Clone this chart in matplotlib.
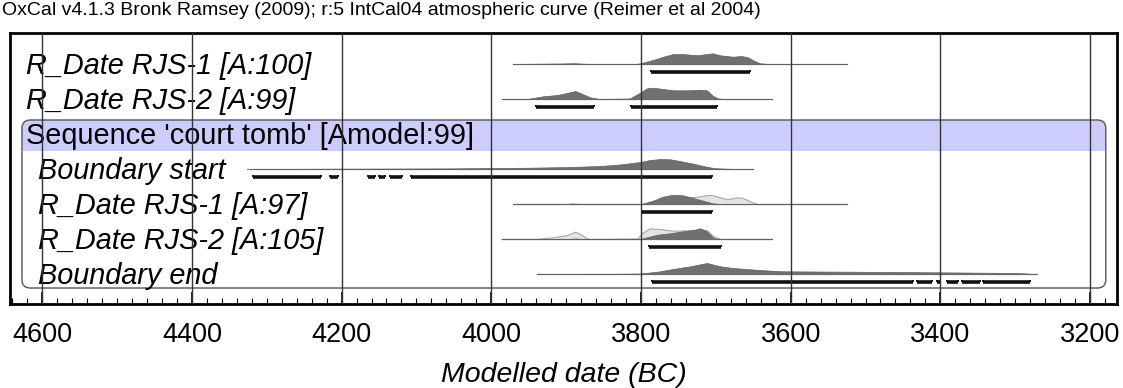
import matplotlib.pyplot as plt
import numpy as np
from matplotlib.patches import FancyBboxPatch, Rectangle

plt.rcParams["font.family"] = ["Liberation Sans", "DejaVu Sans"]

# ---- data (years BC, heights in relative px units) ----
labels = [
    "R_Date RJS-1 [A:100]",
    "R_Date RJS-2 [A:99]",
    "Sequence 'court tomb' [Amodel:99]",
    "Boundary start",
    "R_Date RJS-1 [A:97]",
    "R_Date RJS-2 [A:105]",
    "Boundary end",
]
label_italic = [True, True, False, True, True, True, True]
label_indent = [False, False, False, True, True, True, True]

# baseline extent for each row (None for sequence header)
spans = [
    (3971, 3525),
    (3986, 3625),
    None,
    (4326, 3650),
    (3971, 3525),
    (3986, 3625),
    (3939, 3271),
]

# posterior / unmodelled (dark) distributions
rjs1_years = [3971, 3935, 3908, 3888, 3877, 3855, 3808, 3801, 3784, 3770, 3757,
              3744, 3725, 3712, 3704, 3694, 3677, 3666, 3657, 3649, 3641, 3628, 3525]
rjs1_h = [0, 0.3, 0.5, 0.8, 0.3, 0, 0, 0.7, 4, 7.3, 10,
          10, 8.7, 10, 10.7, 8.7, 7.3, 8, 6.7, 3.3, 0.7, 0, 0]

rjs2_years = [3986, 3952, 3931, 3912, 3899, 3888, 3881, 3868, 3855, 3815, 3802,
              3792, 3784, 3770, 3757, 3738, 3721, 3712, 3704, 3697, 3685, 3625]
rjs2_h = [0, 0, 2.7, 4, 6, 8, 6, 1.7, 0, 0.5, 6,
          10.7, 11.3, 10, 8.7, 8.7, 9.3, 8.7, 3.3, 0.5, 0, 0]

bstart_years = [4322, 4215, 4055, 3948, 3895, 3855, 3828, 3801, 3788, 3774, 3761,
                3748, 3728, 3714, 3701, 3681, 3650]
bstart_h = [0, 0.3, 0.6, 1.3, 2, 3, 4.5, 7, 9, 10, 9.7,
            8, 5, 2.5, 0.8, 0.2, 0]

rjs1m_years = [3971, 3900, 3891, 3882, 3799, 3784, 3771, 3757, 3744, 3730, 3717,
               3704, 3694, 3525]
rjs1m_h = [0, 0, 0.4, 0, 0, 3.3, 7.3, 9.3, 8.7, 6, 3.3,
           0.7, 0, 0]
rjs1m_prior_years = [3971, 3900, 3891, 3882, 3799, 3775, 3748, 3725, 3708, 3694,
                     3685, 3672, 3664, 3654, 3645, 3525]
rjs1m_prior_h = [0, 0, 0.4, 0, 0, 4, 6, 7.3, 9.3, 6.7,
                 4.7, 6.7, 6, 2.7, 0, 0]

rjs2m_years = [3986, 3900, 3888, 3876, 3801, 3792, 3778, 3761, 3744, 3730, 3721,
               3712, 3704, 3698, 3625]
rjs2m_h = [0, 0, 0.5, 0, 0, 1.7, 4.3, 5.7, 7.7, 9, 10.7,
           7.7, 1.7, 0, 0]
rjs2m_prior_years = [3986, 3939, 3912, 3899, 3888, 3881, 3872, 3868, 3805, 3797,
                     3788, 3775, 3757, 3738, 3721, 3712, 3704, 3694, 3625]
rjs2m_prior_h = [0, 0, 2.3, 4, 7.3, 5, 0.7, 0, 0.5, 6.7,
                 10.7, 10, 8.3, 8.7, 9.3, 8.7, 3.3, 0, 0]

bend_years = [3939, 3820, 3801, 3778, 3757, 3734, 3712, 3694, 3677, 3654, 3641,
              3610, 3521, 3388, 3298, 3271]
bend_h = [0, 0.3, 0.5, 2.3, 5, 7.7, 11, 7.7, 6, 4.7, 4,
          2.7, 2.3, 1.6, 1.0, 0]

dists = [
    (rjs1_years, rjs1_h, None, None),
    (rjs2_years, rjs2_h, None, None),
    None,
    (bstart_years, bstart_h, None, None),
    (rjs1m_years, rjs1m_h, rjs1m_prior_years, rjs1m_prior_h),
    (rjs2m_years, rjs2m_h, rjs2m_prior_years, rjs2m_prior_h),
    (bend_years, bend_h, None, None),
]

# 95.4% ranges
ranges = [
    [(3787, 3654)],
    [(3940, 3863), (3813, 3698)],
    [],
    [(4318, 4227), (4215, 4205), (4165, 4155), (4150, 4142), (4135, 4119), (4107, 3705)],
    [(3799, 3705)],
    [(3789, 3693)],
    [(3785, 3437), (3431, 3411), (3404, 3400), (3391, 3376), (3371, 3347), (3343, 3280)],
]

ticks = [4600, 4400, 4200, 4000, 3800, 3600, 3400, 3200]

# ---- figure ----
fig = plt.figure(figsize=(11.23, 3.88), dpi=100)
ax = fig.add_axes([10 / 1123, 1 - 304 / 388, 1107 / 1123, 271 / 388])
ax.set_xlim(4643, 3164)
ax.set_ylim(6.857, -0.886)

scale = 1 / 35.0  # px height -> row units

# sequence box and header band
px_x = (4643 - 3164) / 1107.0
px_y = (6.857 + 0.886) / 271.0
asp = px_y / px_x
band = FancyBboxPatch((3179, 1.6), 4627 - 3179, 0.886,
                      boxstyle="round,pad=0,rounding_size=11",
                      mutation_aspect=asp, fc="#ccccff", ec="none", zorder=0)
ax.add_patch(band)
ax.add_patch(Rectangle((3179, 2.0), 4627 - 3179, 0.486, fc="#ccccff", ec="none", zorder=0))
box = FancyBboxPatch((3179, 1.6), 4627 - 3179, 4.8,
                     boxstyle="round,pad=0,rounding_size=11",
                     mutation_aspect=asp, fc="none", ec="#555555", lw=1.0, zorder=1)
ax.add_patch(box)

for i, lab in enumerate(labels):
    x = 4605 if label_indent[i] else 4621
    ax.text(x, i + 0.29, lab, fontsize=20.8,
            style="italic" if label_italic[i] else "normal",
            ha="left", va="baseline", zorder=3)
    if spans[i] is not None:
        ax.plot(spans[i], [i, i], color="#8a8a8a", lw=0.9, zorder=2)
    d = dists[i]
    if d is not None:
        yrs, h, pyrs, ph = d
        if pyrs is not None:
            ax.fill_between(pyrs, i, i - np.array(ph) * scale, fc="#e4e4e4",
                            ec="#a8a8a8", lw=0.8, zorder=2)
        ax.fill_between(yrs, i, i - np.array(h) * scale, fc="#707070",
                        ec="#606060", lw=0.5, zorder=2.5)
    for a, b in ranges[i]:
        yb = i + 0.24
        ax.plot([a, b], [yb, yb], color="#111111", lw=2.6,
                solid_capstyle="butt", zorder=3)
        ax.vlines([a, b], yb - 0.07, yb, color="#111111", lw=1.4, zorder=3)

for t in ticks:
    ax.axvline(t, color="#333333", lw=1.0, zorder=4)

ax.set_xticks(ticks)
ax.set_xticks(np.arange(3180, 4641, 20), minor=True)
ax.set_xticklabels([str(t) for t in ticks], fontsize=19.5)
ax.tick_params(axis="x", which="major", direction="in", length=9, width=1.2, pad=13)
ax.tick_params(axis="x", which="minor", direction="in", length=4, width=0.8)
ax.set_yticks([])
for s in ax.spines.values():
    s.set_linewidth(2.0)
ax.set_xlabel("Modelled date (BC)", fontsize=20.5, style="italic", labelpad=10)

fig.text(2 / 1123, 1 - 2 / 388,
         "OxCal v4.1.3 Bronk Ramsey (2009); r:5 IntCal04 atmospheric curve (Reimer et al 2004)",
         fontsize=14, ha="left", va="top")

fig.savefig("out.png", dpi=100)
